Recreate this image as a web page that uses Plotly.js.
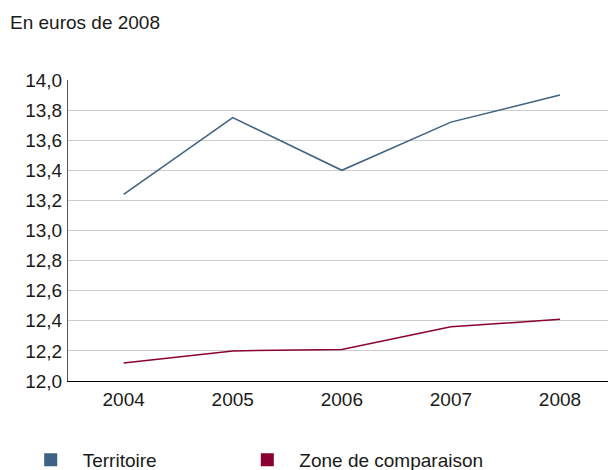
<!DOCTYPE html>
<html>
<head>
<meta charset="utf-8">
<script src="https://cdn.plot.ly/plotly-3.0.1.min.js"></script>
<style>html,body{margin:0;padding:0;background:#fff;}#chart{width:608px;height:470px;}</style>
</head>
<body>
<div id="chart"></div>
<script>
const years = ["2004", "2005", "2006", "2007", "2008"];
const territoire = [13.24, 13.75, 13.40, 13.72, 13.90];
const zoneComparaison = [12.12, 12.20, 12.21, 12.36, 12.41];
const seriesNames = ["Territoire", "Zone de comparaison"];
const seriesColors = ["#3f6183", "#8b0033"];
const yTicks = [12.0, 12.2, 12.4, 12.6, 12.8, 13.0, 13.2, 13.4, 13.6, 13.8, 14.0];
const titleText = "En euros de 2008";

const FONT = 'Arial, "Liberation Sans", sans-serif';
const FS = 19;
const seriesValues = [territoire, zoneComparaison];
const legendIds = ['legend', 'legend2'];
const legendLeft = [18.7, 235.3];

const traces = [];
seriesValues.forEach((vals, i) => {
  traces.push({
    x: years, y: vals, type: 'scatter', mode: 'lines',
    line: {color: seriesColors[i], width: 1.5},
    showlegend: false, hoverinfo: 'skip'
  });
});
seriesNames.forEach((name, i) => {
  traces.push({
    x: [null], y: [null], type: 'scatter', mode: 'markers', name: name,
    legend: legendIds[i],
    marker: {symbol: 'square', size: 13, color: seriesColors[i]},
    showlegend: true
  });
});

const layout = {
  width: 608, height: 470,
  margin: {l: 68, r: 0, t: 80, b: 89, autoexpand: false},
  paper_bgcolor: '#fff', plot_bgcolor: '#fff',
  separators: ', ',
  font: {family: FONT, size: FS, color: '#1a1a1a'},
  title: {text: titleText, x: 10/608, xanchor: 'left', xref: 'container',
          y: 1 - 22/470, yanchor: 'middle', yref: 'container',
          font: {family: FONT, size: FS, color: '#1a1a1a'}},
  xaxis: {type: 'category', range: [-0.51, 4.44], showgrid: false, zeroline: false,
          showline: true, linecolor: '#000', linewidth: 1, ticks: '',
          ticklabelstandoff: 1, tickfont: {family: FONT, size: FS, color: '#1a1a1a'}},
  yaxis: {range: [12, 14], tickvals: yTicks, tickformat: '.1f', showgrid: true,
          gridcolor: '#cccccc', gridwidth: 1, zeroline: false,
          showline: true, linecolor: '#555', linewidth: 1, ticks: '',
          ticklabelstandoff: 1, tickfont: {family: FONT, size: FS, color: '#1a1a1a'}},
  showlegend: true,
  hovermode: false
};
legendIds.forEach((id, i) => {
  layout[id] = {orientation: 'h', xref: 'container', yref: 'container',
    x: legendLeft[i]/608, xanchor: 'left',
    y: 1 - 460/470, yanchor: 'middle',
    itemwidth: 54,
    font: {family: FONT, size: FS, color: '#1a1a1a'},
    bgcolor: 'rgba(0,0,0,0)', borderwidth: 0};
});

Plotly.newPlot('chart', traces, layout, {displayModeBar: false, staticPlot: true});
</script>
</body>
</html>
